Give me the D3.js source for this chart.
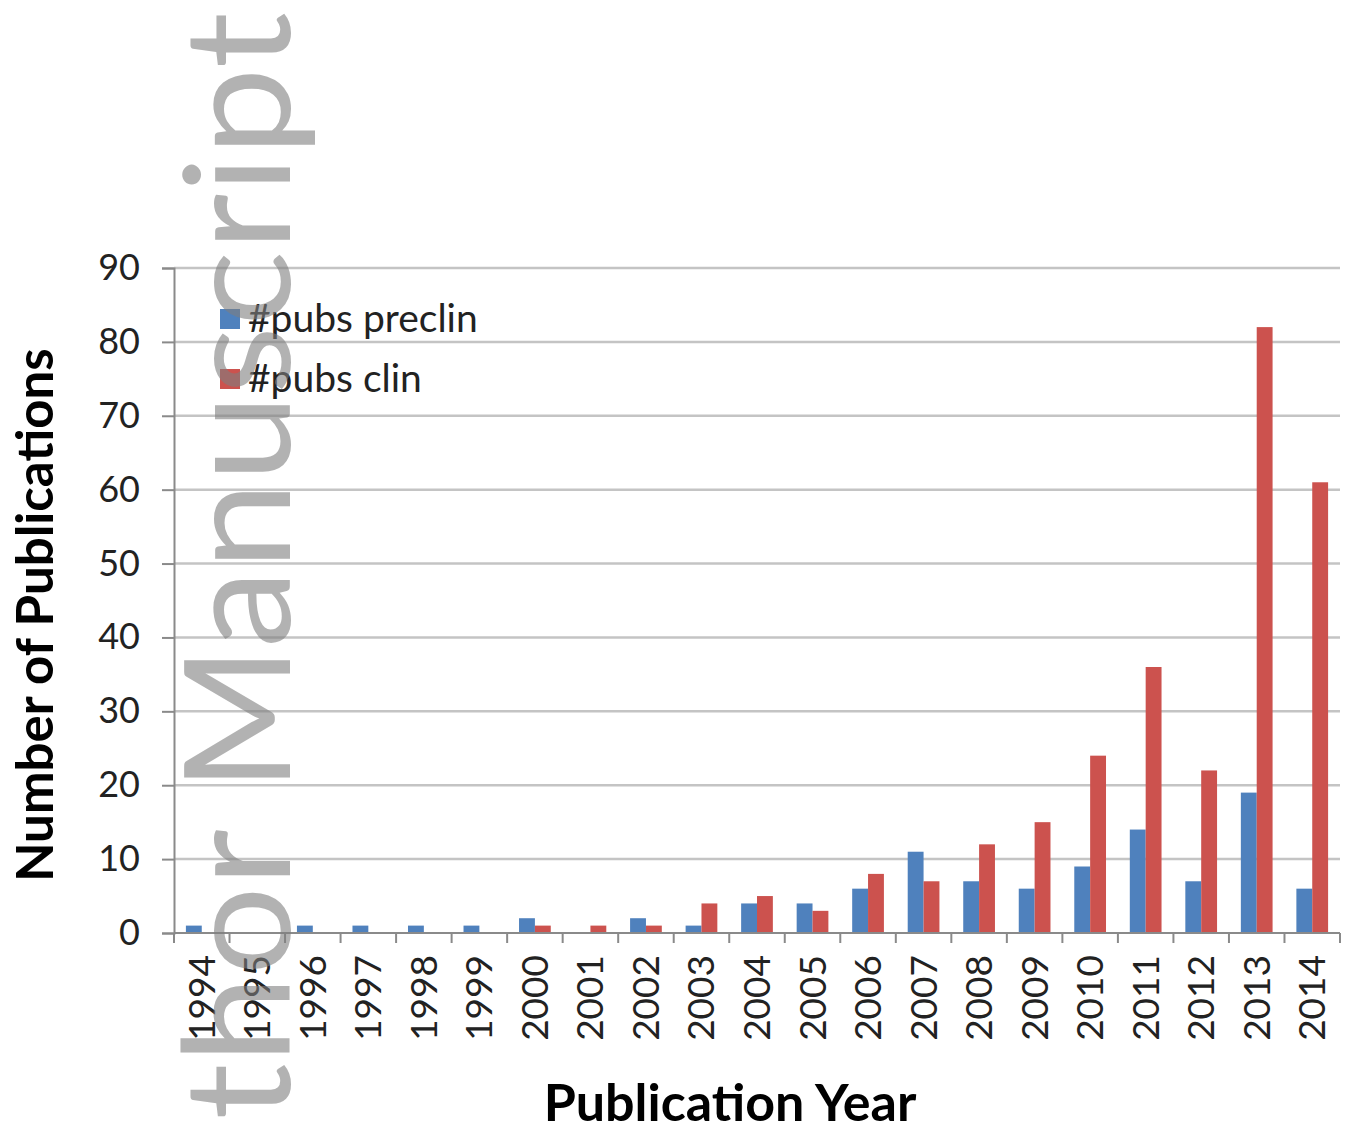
<!DOCTYPE html>
<html>
<head>
<meta charset="utf-8">
<script src="https://cdn.jsdelivr.net/npm/d3@7"></script>
<style>
  body { margin: 0; background: #fff; }
  svg { display: block; }
</style>
</head>
<body>
<svg id="chart" width="1345" height="1131"></svg>
<script>
// Publication counts per year
const years = ["1994","1995","1996","1997","1998","1999","2000","2001","2002","2003","2004",
               "2005","2006","2007","2008","2009","2010","2011","2012","2013","2014"];
const preclin = [1,0,1,1,1,1,2,0,2,1,4,4,6,11,7,6,9,14,7,19,6];
const clin    = [0,0,0,0,0,0,1,1,1,4,5,3,8,7,12,15,24,36,22,82,61];
const seriesNames = ["#pubs preclin", "#pubs clin"];
const seriesColors = ["#4f81bd", "#cc524e"];
const yTicks = [0,10,20,30,40,50,60,70,80,90];
const yTitle = "Number of Publications";
const xTitle = "Publication Year";
const watermark = "Author Manuscript";

const svg = d3.select("#chart");
const FONT = "Lato, 'Open Sans', sans-serif";

const plot = { left: 174, right: 1340, top: 268, bottom: 933 };

const x = d3.scaleBand().domain(years).range([plot.left, plot.right]).paddingInner(0).paddingOuter(0);
const y = d3.scaleLinear().domain([0, 90]).range([plot.bottom, plot.top]);

// Clustered bars with a 150% gap: each bar takes 1/3.5 of the category
const step = x.bandwidth();
const barW = step / 3.5;
const inner = d3.scaleBand().domain([0, 1]).range([step * 0.75 / 3.5, step * 0.75 / 3.5 + 2 * barW]);

// Gridlines
svg.append("g").selectAll("line").data(yTicks.filter(d => d > 0)).join("line")
  .attr("x1", plot.left).attr("x2", plot.right)
  .attr("y1", d => y(d)).attr("y2", d => y(d))
  .attr("stroke", "#c4c4c4").attr("stroke-width", 2.5);

// Bars
const series = [preclin, clin];
series.forEach((vals, si) => {
  svg.append("g").selectAll("rect").data(vals.map((v, i) => ({ year: years[i], v })).filter(d => d.v > 0)).join("rect")
    .attr("x", d => x(d.year) + inner(si))
    .attr("width", inner.bandwidth())
    .attr("y", d => y(d.v))
    .attr("height", d => y(0) - y(d.v))
    .attr("fill", seriesColors[si]);
});

// Y axis
const yAxis = d3.axisLeft(y).tickValues(yTicks).tickSize(12).tickPadding(22).tickFormat(d3.format("d"));
const gy = svg.append("g").attr("transform", `translate(${plot.left},0)`).call(yAxis);
gy.select(".domain").attr("stroke", "#8a8a8a").attr("stroke-width", 2);
gy.selectAll(".tick line").attr("stroke", "#8a8a8a").attr("stroke-width", 2);
gy.selectAll(".tick text").attr("font-family", FONT).attr("font-size", 36).attr("fill", "#222");

// X axis: ticks on category boundaries
const gx = svg.append("g").attr("transform", `translate(0,${plot.bottom})`);
gx.append("line").attr("x1", plot.left).attr("x2", plot.right).attr("stroke", "#8a8a8a").attr("stroke-width", 2);
gx.selectAll("line.tk").data(years.concat(["end"])).join("line").attr("class", "tk")
  .attr("x1", (d, i) => plot.left + i * step).attr("x2", (d, i) => plot.left + i * step)
  .attr("y1", 0).attr("y2", 10).attr("stroke", "#8a8a8a").attr("stroke-width", 2);
gx.selectAll("text").data(years).join("text")
  .attr("transform", d => `translate(${x(d) + step / 2 + 13},22) rotate(-90)`)
  .attr("text-anchor", "end")
  .attr("font-family", FONT).attr("font-size", 37).attr("fill", "#222")
  .text(d => d);

// Axis titles
svg.append("text")
  .attr("transform", "translate(53,615) rotate(-90)")
  .attr("text-anchor", "middle")
  .attr("font-family", FONT).attr("font-weight", 700).attr("font-size", 51).attr("fill", "#000")
  .text(yTitle);
svg.append("text")
  .attr("x", 730).attr("y", 1121)
  .attr("text-anchor", "middle")
  .attr("font-family", FONT).attr("font-weight", 700).attr("font-size", 52).attr("fill", "#000")
  .text(xTitle);

// Legend
const lg = svg.append("g").selectAll("g").data(seriesNames).join("g")
  .attr("transform", (d, i) => `translate(220,${319 + i * 60})`);
lg.append("rect").attr("x", 0).attr("y", -10).attr("width", 20).attr("height", 20)
  .attr("fill", (d, i) => seriesColors[i]);
lg.append("text").attr("x", 28).attr("y", 13)
  .attr("font-family", FONT).attr("font-size", 39).attr("fill", "#222")
  .text(d => d);

// Watermark, running bottom-to-top; the visible part "thor Manuscript" is stretched to span the page height
const wm = svg.append("text")
  .attr("text-anchor", "end")
  .attr("font-family", FONT).attr("font-size", 148)
  .attr("fill", "#7f7f7f").attr("fill-opacity", 0.6)
  .text(watermark);
const visibleLen = wm.node().getSubStringLength(2, watermark.length - 2);
const stretch = 1108 / visibleLen;
wm.attr("transform", `translate(290,12) rotate(-90) scale(${stretch},1)`);
</script>
</body>
</html>
